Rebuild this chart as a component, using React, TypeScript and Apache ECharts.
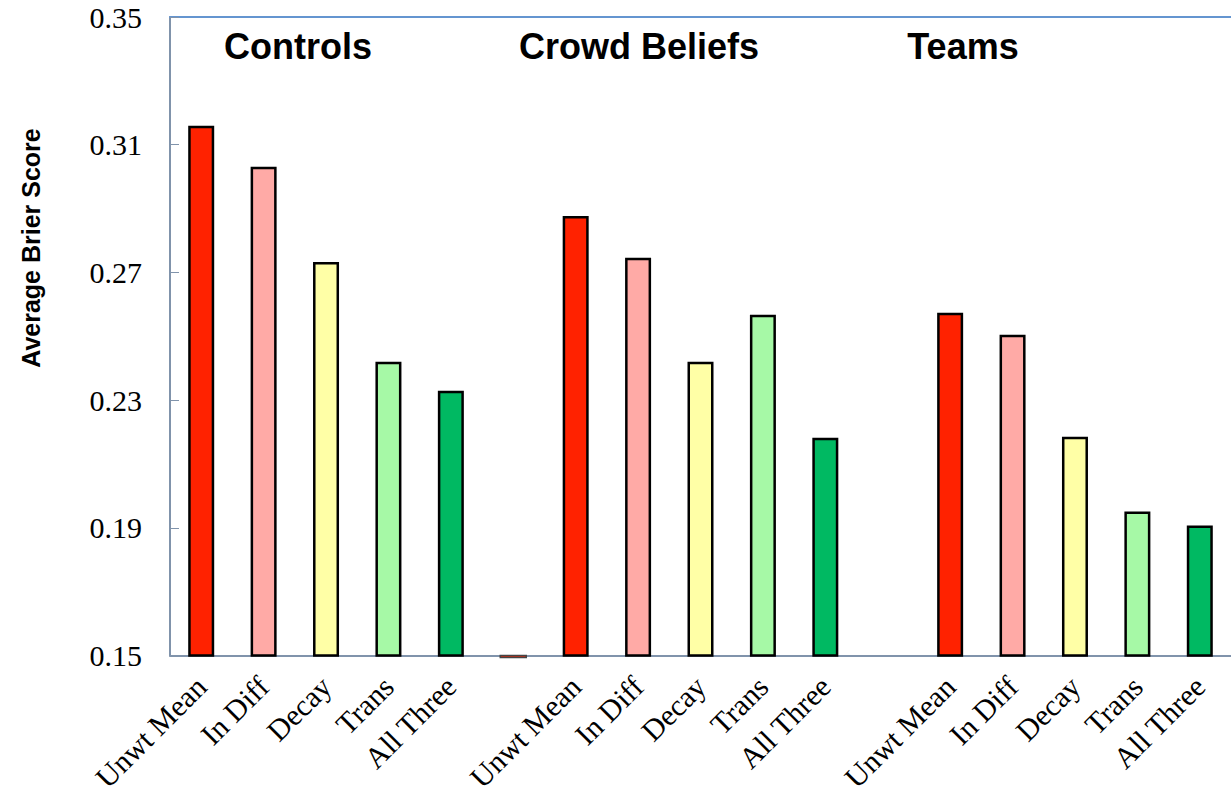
import React, { useEffect, useRef } from "react";
import * as echarts from "echarts";

const categories = [
  "Unwt Mean", "In Diff", "Decay", "Trans", "All Three", "",
  "Unwt Mean", "In Diff", "Decay", "Trans", "All Three", " ",
  "Unwt Mean", "In Diff", "Decay", "Trans", "All Three",
];
const controls = [0.3159, 0.3031, 0.2733, 0.2420, 0.2329];
const crowdBeliefs = [0.2877, 0.2746, 0.2420, 0.2567, 0.2182];
const teams = [0.2574, 0.2505, 0.2185, 0.1951, 0.1907];
const gapValues: (number | null)[] = [0.1494, null];
const barColors = ["#ff2200", "#ffaaa6", "#ffffa6", "#a6f9a6", "#00b962"];
const groupTitles = ["Controls", "Crowd Beliefs", "Teams"];
const yAxisTitle = "Average Brier Score";
const yTicks = { min: 0.15, max: 0.35, interval: 0.04 };

export default function App() {
  const ref = useRef<HTMLDivElement>(null);
  useEffect(() => {
    if (!ref.current) return;
    const chart = echarts.init(ref.current, null, { renderer: "svg" });
    const groups = [controls, crowdBeliefs, teams];
    const data: any[] = [];
    const gapData: any[] = [];
    groups.forEach((g, gi) => {
      g.forEach((v, i) => data.push({ value: v, itemStyle: { color: barColors[i] } }));
      if (gi < 2) {
        data.push("-");
        const gv = gapValues[gi];
        if (gv != null) gapData.push([data.length - 1, gv]);
      }
    });
    const titleX = [298, 639, 963];
    chart.setOption({
      animation: false,
      grid: { left: 170, right: -4, top: 17, bottom: 139, containLabel: false },
      xAxis: [
        {
          type: "category",
          data: categories,
          axisLine: { lineStyle: { color: "#8093ab", width: 2 } },
          axisTick: { show: false },
          axisLabel: {
            interval: 0,
            rotate: 45,
            margin: 26,
            fontFamily: "Liberation Serif",
            fontSize: 30,
            color: "#000",
          },
        },
        {
          type: "category",
          data: categories,
          position: "top",
          axisLine: { lineStyle: { color: "#6495d0", width: 2 } },
          axisTick: { show: false },
          axisLabel: { show: false },
        },
      ],
      yAxis: {
        type: "value",
        min: yTicks.min,
        max: yTicks.max,
        interval: yTicks.interval,
        axisLine: { show: true, lineStyle: { color: "#8093ab", width: 2 } },
        axisTick: { show: true, inside: true, length: 9, lineStyle: { color: "#8093ab" } },
        splitLine: { show: false },
        axisLabel: {
          margin: 28,
          fontFamily: "Liberation Serif",
          fontSize: 30,
          color: "#000",
          formatter: (v: number) => v.toFixed(2),
        },
      },
      series: [
        {
          type: "bar",
          data,
          barWidth: 26,
          itemStyle: { borderColor: "#000", borderWidth: 2.5 },
        },
        {
          type: "custom",
          data: gapData,
          clip: false,
          renderItem: (params: any, api: any) => {
            const top = api.coord([api.value(0), yTicks.min]);
            const bot = api.coord([api.value(0), api.value(1)]);
            return {
              type: "rect",
              shape: { x: top[0] - 13, y: top[1], width: 26, height: Math.max(bot[1] - top[1], 2) },
              style: { fill: barColors[0], stroke: "#444", lineWidth: 1.5 },
            };
          },
        },
      ],
      graphic: [
        ...groupTitles.map((t, i) => ({
          type: "text",
          x: titleX[i],
          y: 46,
          style: {
            text: t,
            fontFamily: "Liberation Sans",
            fontWeight: "bold",
            fontSize: 36,
            fill: "#000",
            textAlign: "center",
            textVerticalAlign: "middle",
          },
        })),
        {
          type: "text",
          x: 31,
          y: 248,
          rotation: Math.PI / 2,
          style: {
            text: yAxisTitle,
            fontFamily: "Liberation Sans",
            fontWeight: "bold",
            fontSize: 25,
            fill: "#000",
            textAlign: "center",
            textVerticalAlign: "middle",
          },
        },
      ],
    });
    return () => chart.dispose();
  }, []);
  return (
    <div
      ref={ref}
      style={{ position: "absolute", left: 0, top: 0, width: 1231, height: 795, background: "#fff" }}
    />
  );
}
